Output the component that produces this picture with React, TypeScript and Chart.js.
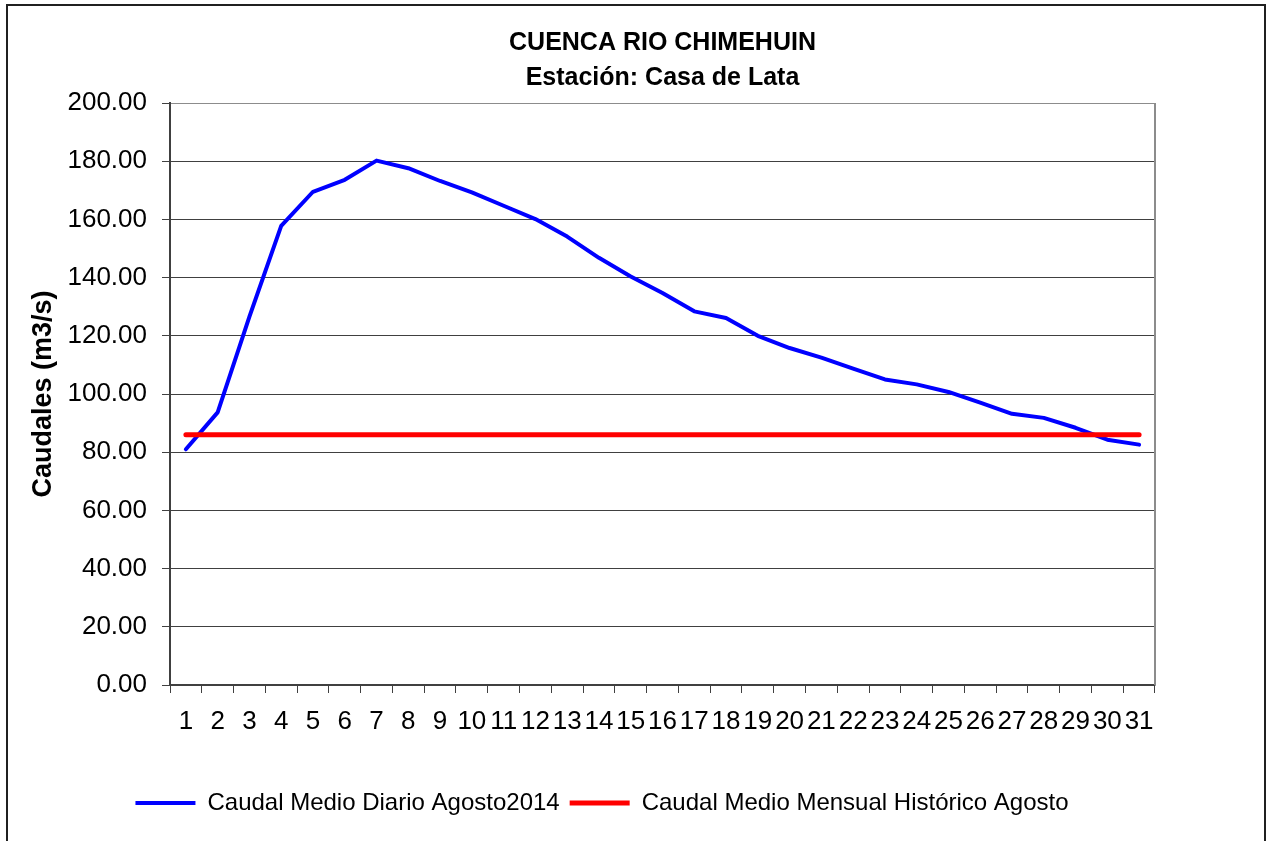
import React, { useEffect, useRef } from 'react';
import { Chart, registerables } from 'chart.js';

Chart.register(...registerables);

const days = ['1','2','3','4','5','6','7','8','9','10','11','12','13','14','15','16','17','18','19','20','21','22','23','24','25','26','27','28','29','30','31'];

const dailyFlow = [81.0, 93.7, 126.6, 157.8, 169.5, 173.6, 180.2, 177.6, 173.2, 169.3, 164.7, 160.1, 154.1, 146.8, 140.4, 134.7, 128.4, 126.1, 120.0, 115.8, 112.5, 108.7, 105.0, 103.3, 100.7, 97.0, 93.2, 91.8, 88.4, 84.3, 82.6];

const historicalMean = [86.0, 86.0, 86.0, 86.0, 86.0, 86.0, 86.0, 86.0, 86.0, 86.0, 86.0, 86.0, 86.0, 86.0, 86.0, 86.0, 86.0, 86.0, 86.0, 86.0, 86.0, 86.0, 86.0, 86.0, 86.0, 86.0, 86.0, 86.0, 86.0, 86.0, 86.0];

const titleLines = ['CUENCA RIO CHIMEHUIN', 'Estación: Casa de Lata'];
const seriesNames = ['Caudal Medio Diario Agosto2014', 'Caudal Medio Mensual Histórico Agosto'];
const yAxisTitle = 'Caudales (m3/s)';
const yMin = 0;
const yMax = 200;
const yStep = 20;

const plotRightBorder = {
  id: 'plotRightBorder',
  afterDraw(chart: any) {
    const { ctx, chartArea } = chart;
    ctx.save();
    ctx.strokeStyle = '#8c8c8c';
    ctx.lineWidth = 2;
    ctx.beginPath();
    ctx.moveTo(chartArea.right, chartArea.top);
    ctx.lineTo(chartArea.right, chartArea.bottom);
    ctx.stroke();
    ctx.restore();
  },
};

export default function App() {
  const canvasRef = useRef<HTMLCanvasElement | null>(null);

  useEffect(() => {
    if (!canvasRef.current) return;
    Chart.defaults.font.family = "'Liberation Sans', Arial, sans-serif";
    const chart = new Chart(canvasRef.current, {
      type: 'line',
      data: {
        labels: days,
        datasets: [
          {
            label: seriesNames[0],
            data: dailyFlow,
            borderColor: '#0000ff',
            backgroundColor: '#0000ff',
            borderWidth: 4,
            pointRadius: 0,
            tension: 0,
            borderCapStyle: 'round',
            borderJoinStyle: 'round',
            order: 2,
          },
          {
            label: seriesNames[1],
            data: historicalMean,
            borderColor: '#ff0000',
            backgroundColor: '#ff0000',
            borderWidth: 5,
            pointRadius: 0,
            tension: 0,
            borderCapStyle: 'round',
            order: 1,
          },
        ],
      },
      options: {
        responsive: false,
        animation: false,
        devicePixelRatio: 1,
        layout: { padding: { left: 49, right: 115, top: 0, bottom: 16 } },
        plugins: {
          title: {
            display: true,
            text: titleLines,
            fullSize: false,
            color: '#000',
            font: { size: 25, weight: 'bold', lineHeight: 1.4 },
            padding: { top: 25.5, bottom: 7.5 },
          },
          legend: {
            position: 'bottom',
            labels: {
              usePointStyle: true,
              pointStyle: 'line',
              pointStyleWidth: 60,
              color: '#000',
              font: { size: 24 },
              padding: 10,
              sort: (a: any, b: any) => a.datasetIndex - b.datasetIndex,
            },
          },
          tooltip: { enabled: false },
        },
        scales: {
          x: {
            offset: true,
            grid: {
              offset: true,
              drawOnChartArea: false,
              drawTicks: true,
              tickLength: 8,
              tickColor: '#404040',
            },
            border: { color: '#404040', width: 1.5 },
            ticks: {
              autoSkip: false,
              maxRotation: 0,
              minRotation: 0,
              padding: 13.4,
              color: '#000',
              font: { size: 26 },
            },
            afterFit: (s: any) => {
              s.height = 96;
            },
          },
          y: {
            min: yMin,
            max: yMax,
            ticks: {
              stepSize: yStep,
              padding: 15,
              color: '#000',
              font: { size: 26 },
              callback: (v: any) => Number(v).toFixed(2),
            },
            grid: {
              color: (c: any) => (c.tick && c.tick.value === yMax ? '#8c8c8c' : '#404040'),
              tickLength: 8,
              tickColor: '#404040',
            },
            border: { color: '#404040', width: 2 },
            title: {
              display: true,
              text: yAxisTitle,
              color: '#000',
              font: { size: 27, weight: 'bold' },
              padding: { top: -21.2, bottom: 0 },
            },
            afterFit: (s: any) => {
              s.width = 121;
            },
          },
        },
      },
      plugins: [plotRightBorder],
    } as any);
    return () => chart.destroy();
  }, []);

  return (
    <div style={{ position: 'absolute', left: 0, top: 0, width: 1270, height: 841, overflow: 'hidden', background: '#fff' }}>
      <div
        style={{
          position: 'absolute',
          left: 6,
          top: 4,
          width: 1256,
          height: 900,
          borderLeft: '2px solid #202020',
          borderTop: '2px solid #202020',
          borderRight: '2px solid #202020',
        }}
      />
      <canvas ref={canvasRef} width={1270} height={841} style={{ position: 'absolute', left: 0, top: 0 }} />
    </div>
  );
}
